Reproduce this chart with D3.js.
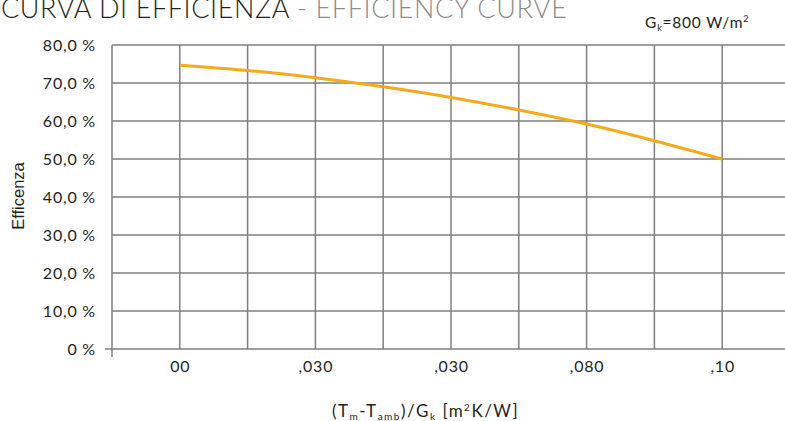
<!DOCTYPE html>
<html>
<head>
<meta charset="utf-8">
<script src="https://cdn.jsdelivr.net/npm/d3@7"></script>
<style>
  html, body { margin: 0; padding: 0; background: #fff; overflow: hidden; }
  svg { display: block; font-family: Lato, "Noto Sans", sans-serif; }
</style>
</head>
<body>
<svg id="graphique" width="785" height="421"></svg>
<script>
// valori
var xValues = [0, 0.0125, 0.025, 0.0375, 0.05, 0.0625, 0.075, 0.0875, 0.1];
var efficienza = [74.7, 73.3, 71.4, 69.0, 66.2, 62.9, 59.2, 54.8, 50.0];
var yTicks = [0, 10, 20, 30, 40, 50, 60, 70, 80];
var xTickValues = [0, 0.025, 0.05, 0.075, 0.1];
var xTickLabels = ["00", ",030", ",030", ",080", ",10"];
var xGrid = [-0.0125, 0, 0.0125, 0.025, 0.0375, 0.05, 0.0625, 0.075, 0.0875, 0.1, 0.1125];

var svg = d3.select("#graphique");

var MARGINS = { top: 45, right: -5, bottom: 72, left: 112 };
var WIDTH = 785, HEIGHT = 421;

var xScale = d3.scaleLinear().domain([-0.0125, 0.1125]).range([MARGINS.left, WIDTH - MARGINS.right]);
var yScale = d3.scaleLinear().domain([0, 80]).range([HEIGHT - MARGINS.bottom, MARGINS.top]);

var gridColor = "#7f7f7f";
var textColor = "#231f20";

// titolo
var titolo = svg.append("text")
  .attr("x", 1).attr("y", 18)
  .attr("font-size", 27).attr("font-weight", 300)
  .attr("letter-spacing", 0.6)
  .attr("fill", textColor);
titolo.append("tspan").text("CURVA DI EFFICIENZA");
titolo.append("tspan").attr("fill", "#8c8c8c").text(" - EFFICIENCY CURVE");

// G_k
var gk = svg.append("text")
  .attr("x", 645).attr("y", 28)
  .attr("font-size", 15.5).attr("letter-spacing", 0.8).attr("fill", textColor);
gk.append("tspan").text("G");
gk.append("tspan").attr("font-size", 9).attr("dy", 3).text("k");
gk.append("tspan").attr("dy", -3).text("=800 W/m");
gk.append("tspan").attr("font-size", 9).attr("dy", -6).text("2");

// griglia orizzontale
svg.append("g").selectAll("line").data(yTicks).join("line")
  .attr("x1", xScale(-0.0125)).attr("x2", xScale(0.1125))
  .attr("y1", function(d){ return yScale(d); })
  .attr("y2", function(d){ return yScale(d); })
  .attr("stroke", gridColor).attr("stroke-width", 1.5);

// griglia verticale
svg.append("g").selectAll("line").data(xGrid).join("line")
  .attr("x1", function(d){ return xScale(d); })
  .attr("x2", function(d){ return xScale(d); })
  .attr("y1", yScale(80)).attr("y2", yScale(0))
  .attr("stroke", gridColor).attr("stroke-width", 1.5);

// asse y
var yAxis = d3.axisLeft(yScale)
  .tickValues(yTicks)
  .tickSize(0)
  .tickPadding(16)
  .tickFormat(function(d){ return d == 0 ? "0 %" : d.toFixed(1).replace(".", ",") + " %"; });

svg.append("g")
  .attr("transform", "translate(" + MARGINS.left + ",0)")
  .call(yAxis)
  .call(function(g){ g.select(".domain").remove(); })
  .selectAll("text")
  .attr("font-size", 16).attr("letter-spacing", 0.8)
  .attr("fill", textColor).attr("font-family", "Lato, sans-serif");

// asse x
var xAxis = d3.axisBottom(xScale)
  .tickValues(xTickValues)
  .tickSize(0)
  .tickPadding(12)
  .tickFormat(function(d, i){ return xTickLabels[i]; });

svg.append("g")
  .attr("transform", "translate(0," + yScale(0) + ")")
  .call(xAxis)
  .call(function(g){ g.select(".domain").remove(); })
  .selectAll("text")
  .attr("font-size", 16).attr("letter-spacing", 0.8)
  .attr("fill", textColor).attr("font-family", "Lato, sans-serif");

// tacche all'origine
svg.append("line")
  .attr("x1", xScale(-0.0125) - 7).attr("x2", xScale(-0.0125))
  .attr("y1", yScale(0)).attr("y2", yScale(0))
  .attr("stroke", gridColor).attr("stroke-width", 1.5);
svg.append("line")
  .attr("x1", xScale(-0.0125)).attr("x2", xScale(-0.0125))
  .attr("y1", yScale(0)).attr("y2", yScale(0) + 8)
  .attr("stroke", gridColor).attr("stroke-width", 1.5);

// curva
var tableau = xValues.map(function(v, i){ return { x: v, eta: efficienza[i] }; });
var line = d3.line()
  .x(function(d){ return xScale(d.x); })
  .y(function(d){ return yScale(d.eta); })
  .curve(d3.curveNatural);

svg.append("path")
  .attr("d", line(tableau))
  .attr("stroke", "#f5aa1c")
  .attr("stroke-width", 3)
  .attr("fill", "none");

// titoli assi
svg.append("text")
  .attr("transform", "translate(24,196) rotate(-90)")
  .attr("text-anchor", "middle")
  .attr("font-size", 16.5).attr("fill", textColor)
  .attr("font-family", "'Liberation Sans', Arial, sans-serif")
  .text("Efficenza");

var xt = svg.append("text")
  .attr("x", 332).attr("y", 417)
  .attr("font-size", 17).attr("letter-spacing", 1.5).attr("fill", textColor);
xt.append("tspan").text("(T");
xt.append("tspan").attr("font-size", 10).attr("dy", 3).text("m");
xt.append("tspan").attr("dy", -3).text("-T");
xt.append("tspan").attr("font-size", 10).attr("dy", 3).text("amb");
xt.append("tspan").attr("dy", -3).text(")/G");
xt.append("tspan").attr("font-size", 10).attr("dy", 3).text("k");
xt.append("tspan").attr("dy", -3).text(" [m");
xt.append("tspan").attr("font-size", 10).attr("dy", -6).text("2");
xt.append("tspan").attr("dy", 6).text("K/W]");
</script>
</body>
</html>
